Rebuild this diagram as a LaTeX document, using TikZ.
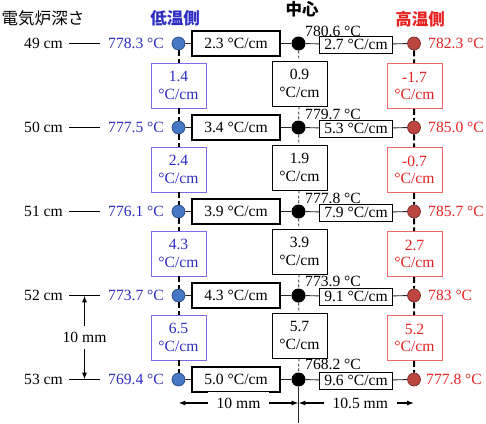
\documentclass[tikz,border=0pt]{standalone}
\usepackage{fontspec}
\setmainfont{Liberation Serif}
\newfontfamily\cjk{Noto Sans CJK JP}
\usetikzlibrary{positioning,arrows.meta}
\definecolor{coldtxt}{RGB}{45,45,195}
\definecolor{coldedge}{RGB}{120,110,225}
\definecolor{coldfill}{RGB}{70,120,195}
\definecolor{colddraw}{RGB}{35,65,125}
\definecolor{hottxt}{RGB}{230,35,35}
\definecolor{hotedge}{RGB}{235,105,105}
\definecolor{hotfill}{RGB}{190,70,65}
\definecolor{hotdraw}{RGB}{110,35,35}
\tikzset{
  dimarrow/.style={{Latex[length=2.4mm,width=1.8mm]}-{Latex[length=2.4mm,width=1.8mm]}, line width=1.5pt},
  rowline/.style={line width=0.9pt, black!85},
  tickline/.style={line width=1pt, shorten <=6pt, shorten >=8pt},
  coldline/.style={line width=2pt, dash pattern=on 6pt off 3pt},
  midline/.style={line width=0.7pt, dash pattern=on 3pt off 2pt},
  colddot/.style={circle, draw=colddraw, fill=coldfill, line width=0.6pt, minimum size=13pt, inner sep=0pt},
  middot/.style={circle, fill=black, minimum size=14pt, inner sep=0pt},
  hotdot/.style={circle, draw=hotdraw, fill=hotfill, line width=0.6pt, minimum size=13pt, inner sep=0pt},
  gradbox/.style={draw, fill=white, line width=1.2pt, minimum width=88pt, minimum height=25pt, inner sep=1pt},
  gradbox2/.style={draw, fill=white, line width=0.9pt, minimum width=73pt, minimum height=17pt, inner sep=1pt},
  midbox/.style={draw, fill=white, line width=0.9pt, minimum width=55pt, minimum height=45pt, inner sep=1pt, align=center},
  coldbox/.style={midbox, draw=coldedge, text=coldtxt},
  hotbox/.style={midbox, draw=hotedge, text=hottxt},
  depthlbl/.style={anchor=east, inner sep=0pt},
  coldtemp/.style={anchor=west, inner sep=0pt, text=coldtxt},
  hottemp/.style={anchor=west, inner sep=0pt, text=hottxt},
  midtemp/.style={anchor=west, inner sep=0pt},
  headlbl/.style={inner sep=0pt, font=\fontsize{16.5}{18}\selectfont},
  relabel/.style={fill=white, inner xsep=9pt, inner ysep=6pt}
}
\begin{document}
\begin{tikzpicture}[x=1pt, y=-1pt, every node/.style={font=\fontsize{15.6}{17.5}\selectfont}]
  \useasboundingbox (0,0) rectangle (486,423);
  % headers
  \node[headlbl] (hdepth) at (43,18) {\cjk 電気炉深さ};
  \node[headlbl, text=coldtxt] (hcold) at (175,18) {\cjk\bfseries 低温側};
  \node[headlbl] (hmid) at (302,9.5) {\cjk\bfseries 中心};
  \node[headlbl, text=hottxt] (hhot) at (420,19) {\cjk\bfseries 高温側};
  % 49 cm
  \node[depthlbl] (d1) at (63,43.5) {49 cm};
  \node[coldtemp] (tL1) at (108,43.5) {778.3 °C};
  \node[colddot] (L1) at (178.5,43.5) {};
  \node[gradbox] (gL1) at (236,43.5) {2.3 °C/cm};
  \node[middot] (C1) at (298.5,43.5) {};
  \node[midtemp] (tC1) at (305,31) {780.6 °C};
  \node[gradbox2] (gR1) at (356,44.5) {2.7 °C/cm};
  \node[hotdot] (R1) at (414,43.5) {};
  \node[hottemp] (tR1) at (428,43.5) {782.3 °C};
  % 50 cm
  \node[depthlbl] (d2) at (63,127.5) {50 cm};
  \node[coldtemp] (tL2) at (108,127.5) {777.5 °C};
  \node[colddot] (L2) at (178.5,127.5) {};
  \node[gradbox] (gL2) at (236,127.5) {3.4 °C/cm};
  \node[middot] (C2) at (298.5,127.5) {};
  \node[midtemp] (tC2) at (305,114) {779.7 °C};
  \node[gradbox2] (gR2) at (356,128.5) {5.3 °C/cm};
  \node[hotdot] (R2) at (414,127.5) {};
  \node[hottemp] (tR2) at (428,127.5) {785.0 °C};
  % 51 cm
  \node[depthlbl] (d3) at (63,211.5) {51 cm};
  \node[coldtemp] (tL3) at (108,211.5) {776.1 °C};
  \node[colddot] (L3) at (178.5,211.5) {};
  \node[gradbox] (gL3) at (236,211.5) {3.9 °C/cm};
  \node[middot] (C3) at (298.5,211.5) {};
  \node[midtemp] (tC3) at (305,198) {777.8 °C};
  \node[gradbox2] (gR3) at (356,212.5) {7.9 °C/cm};
  \node[hotdot] (R3) at (414,211.5) {};
  \node[hottemp] (tR3) at (428,211.5) {785.7 °C};
  % 52 cm
  \node[depthlbl] (d4) at (63,295.5) {52 cm};
  \node[coldtemp] (tL4) at (108,295.5) {773.7 °C};
  \node[colddot] (L4) at (178.5,295.5) {};
  \node[gradbox] (gL4) at (236,295.5) {4.3 °C/cm};
  \node[middot] (C4) at (298.5,295.5) {};
  \node[midtemp] (tC4) at (305,281) {773.9 °C};
  \node[gradbox2] (gR4) at (356,296.5) {9.1 °C/cm};
  \node[hotdot] (R4) at (414,295.5) {};
  \node[hottemp] (tR4) at (428,295.5) {783 °C};
  % 53 cm
  \node[depthlbl] (d5) at (63,379.5) {53 cm};
  \node[coldtemp] (tL5) at (108,379.5) {769.4 °C};
  \node[colddot] (L5) at (178.5,379.5) {};
  \node[gradbox] (gL5) at (236,379.5) {5.0 °C/cm};
  \node[middot] (C5) at (298.5,379.5) {};
  \node[midtemp] (tC5) at (305,364) {768.2 °C};
  \node[gradbox2] (gR5) at (356,380.5) {9.6 °C/cm};
  \node[hotdot] (R5) at (414,379.5) {};
  \node[hottemp] (tR5) at (426,379.5) {777.8 °C};
  % vertical gradients
  \node[coldbox] (vL1) at (178.5,85.5) {1.4\\°C/cm};
  \node[coldbox] (vL2) at (178.5,169.5) {2.4\\°C/cm};
  \node[coldbox] (vL3) at (178.5,253.5) {4.3\\°C/cm};
  \node[coldbox] (vL4) at (178.5,337.5) {6.5\\°C/cm};
  \node[midbox] (vC1) at (299.5,83.5) {0.9\\°C/cm};
  \node[midbox] (vC2) at (299.5,167.5) {1.9\\°C/cm};
  \node[midbox] (vC3) at (299.5,251.5) {3.9\\°C/cm};
  \node[midbox] (vC4) at (299.5,335.5) {5.7\\°C/cm};
  \node[hotbox] (vR1) at (414.5,86) {-1.7\\°C/cm};
  \node[hotbox] (vR2) at (414.5,170) {-0.7\\°C/cm};
  \node[hotbox] (vR3) at (414.5,254) {2.7\\°C/cm};
  \node[hotbox] (vR4) at (414.5,338) {5.2\\°C/cm};
  % connectors
  \draw[tickline] (d1) -- (tL1);
  \draw[tickline] (d2) -- (tL2);
  \draw[tickline] (d3) -- (tL3);
  \draw[tickline] (d4) -- (tL4);
  \draw[tickline] (d5) -- (tL5);
  \draw[rowline] (L1) -- (gL1) -- (C1) -- (gR1) -- (R1);
  \draw[rowline] (L2) -- (gL2) -- (C2) -- (gR2) -- (R2);
  \draw[rowline] (L3) -- (gL3) -- (C3) -- (gR3) -- (R3);
  \draw[rowline] (L4) -- (gL4) -- (C4) -- (gR4) -- (R4);
  \draw[rowline] (L5) -- (gL5) -- (C5) -- (gR5) -- (R5);
  \draw[coldline] (L1) -- (vL1) -- (L2) -- (vL2) -- (L3) -- (vL3) -- (L4) -- (vL4) -- (L5);
  \draw[coldline] (R1) -- (vR1) -- (R2) -- (vR2) -- (R3) -- (vR3) -- (R4) -- (vR4) -- (R5);
  \draw[midline] (C1) -- (vC1) -- (C2) -- (vC2) -- (C3) -- (vC3) -- (C4) -- (vC4) -- (C5);
  \coordinate (cbot) at (298.5,423);
  \draw[rowline] (C5) -- (cbot);
  % dimensions
  \coordinate (m52) at (84.5,295.5);
  \coordinate (m53) at (84.5,379.5);
  \draw[dimarrow] (m52) -- node[relabel]{10 mm} (m53);
  \coordinate (bL) at (178.5,403);
  \coordinate (bC) at (298.5,403);
  \coordinate (bR) at (414,403);
  \draw[dimarrow] (bL) -- node[relabel]{10 mm} (bC);
  \draw[dimarrow] (bC) -- node[relabel, xshift=4pt]{10.5 mm} (bR);
\end{tikzpicture}
\end{document}
